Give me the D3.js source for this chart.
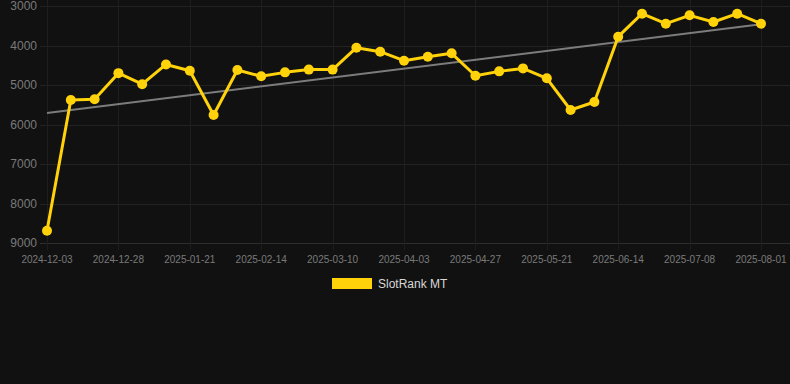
<!DOCTYPE html>
<html><head><meta charset="utf-8">
<script src="https://cdn.jsdelivr.net/npm/d3@7"></script>
<style>
html,body{margin:0;padding:0;background:#111111;}
svg{display:block;font-family:"Liberation Sans",Arial,sans-serif;}
</style></head>
<body><svg id="c" width="790" height="384"></svg>
<script>
const rankValues = [8690,5380,5360,4700,4980,4480,4640,5760,4620,4780,4680,4610,4610,4055,4157,4385,4283,4198,4765,4655,4580,4830,5633,5430,3777,3195,3448,3236,3405,3195,3448];
const trendValues = [5710,3463];
const yTicks = [3000,4000,5000,6000,7000,8000,9000];
const xTickLabels = ["2024-12-03","2024-12-28","2025-01-21","2025-02-14","2025-03-10","2025-04-03","2025-04-27","2025-05-21","2025-06-14","2025-07-08","2025-08-01"];
const seriesName = "SlotRank MT";

(function(){
const n = rankValues.length;
const data = rankValues.map((v,i)=>({i, v}));
const tickEvery = (n-1)/(xTickLabels.length-1);
const ticks = xTickLabels.map((l,k)=>({i:k*tickEvery, l}));

const svg = d3.select("#c");
const mL=47, mR=761, mT=6, mB=243, gridRight=790;
const x = d3.scaleLinear().domain([0,n-1]).range([mL,mR]);
const y = d3.scaleLinear().domain([3000,9000]).range([mT,mB]);

// horizontal grid
svg.append("g").selectAll("line").data(yTicks).join("line")
  .attr("x1",40).attr("x2",gridRight)
  .attr("y1",d=>Math.round(y(d))+0.5).attr("y2",d=>Math.round(y(d))+0.5)
  .attr("stroke",d=>d===9000?"#2e2e2e":"#222222").attr("stroke-width",1);
// vertical grid
svg.append("g").selectAll("line").data(ticks).join("line")
  .attr("x1",d=>Math.round(x(d.i))+0.5).attr("x2",d=>Math.round(x(d.i))+0.5)
  .attr("y1",0).attr("y2",mB+7)
  .attr("stroke","#1e1e1e").attr("stroke-width",1);

// y labels
svg.append("g").selectAll("text").data(yTicks).join("text")
  .attr("x",37).attr("y",d=>y(d)).attr("dy","0.35em")
  .attr("text-anchor","end").attr("fill","#7a7a7a").attr("font-size",12)
  .text(d=>d);
// x labels
svg.append("g").selectAll("text").data(ticks).join("text")
  .attr("x",d=>x(d.i)).attr("y",259).attr("dy","0.35em")
  .attr("text-anchor","middle").attr("fill","#7a7a7a").attr("font-size",10)
  .text(d=>d.l);

// trend line
svg.append("line")
  .attr("x1",x(0)).attr("y1",y(trendValues[0]))
  .attr("x2",x(n-1)).attr("y2",y(trendValues[1]))
  .attr("stroke","#7c7c7c").attr("stroke-width",2);

// series line
const color="#FFD20A";
svg.append("path").datum(data)
  .attr("d",d3.line().x(d=>x(d.i)).y(d=>y(d.v)))
  .attr("fill","none").attr("stroke",color).attr("stroke-width",3).attr("stroke-linejoin","round");
svg.append("g").selectAll("circle").data(data).join("circle")
  .attr("cx",d=>x(d.i)).attr("cy",d=>y(d.v)).attr("r",5)
  .attr("fill",color);

// legend
svg.append("rect").attr("x",332).attr("y",278).attr("width",40).attr("height",11).attr("fill",color);
svg.append("text").attr("x",378).attr("y",284).attr("dy","0.35em")
  .attr("fill","#d8d8d8").attr("font-size",12).text(seriesName);
})();
</script></body></html>
